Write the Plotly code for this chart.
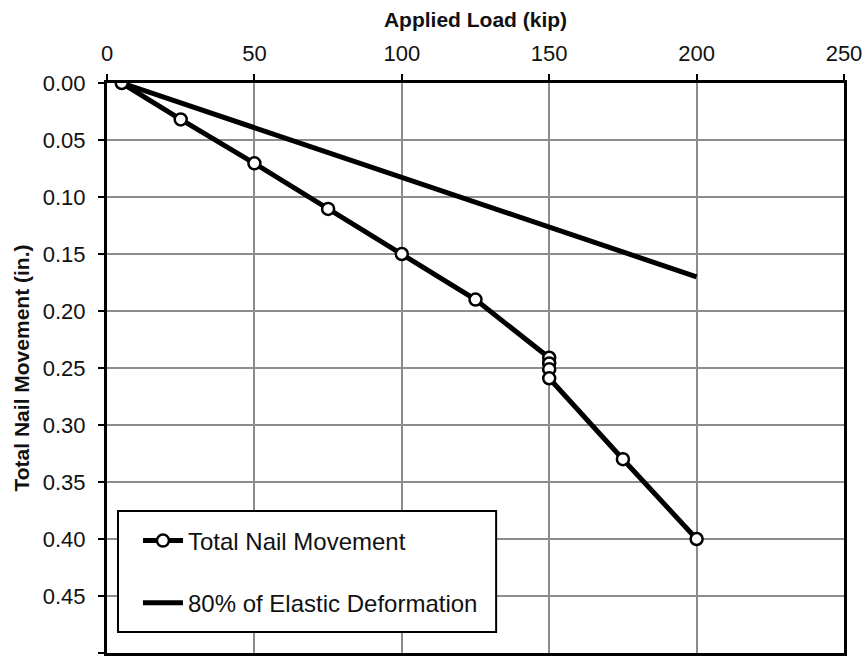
import plotly.graph_objects as go

load_kip = [5, 25, 50, 75, 100, 125, 150, 150, 150, 150, 175, 200]
movement_in = [0.0, 0.032, 0.0705, 0.1105, 0.150, 0.190, 0.241, 0.246, 0.251, 0.259, 0.330, 0.400]

elastic_load = [5, 200]
elastic_move = [0.0, 0.170]

x_ticks = [0, 50, 100, 150, 200, 250]
y_ticks = [0.00, 0.05, 0.10, 0.15, 0.20, 0.25, 0.30, 0.35, 0.40, 0.45, 0.50]

FONT = "Liberation Sans, Arial, sans-serif"

fig = go.Figure()
fig.add_trace(go.Scatter(
    x=elastic_load, y=elastic_move, mode="lines",
    name="80% of Elastic Deformation",
    line=dict(color="black", width=5),
    legendgroup="b", legendrank=2,
))
fig.add_trace(go.Scatter(
    x=load_kip, y=movement_in, mode="lines+markers",
    name="Total Nail Movement",
    line=dict(color="black", width=5),
    marker=dict(symbol="circle", size=12, color="white",
                line=dict(color="black", width=2.5)),
    legendgroup="a", legendrank=1,
))

# legend frame (white box with black border)
fig.add_shape(
    type="rect", xref="paper", yref="paper",
    x0=0.0149, x1=0.528, y0=0.0368, y1=0.249,
    line=dict(color="black", width=2), fillcolor="white", layer="above",
)

fig.update_layout(
    width=866, height=663,
    margin=dict(l=107, r=22, t=83, b=10, autoexpand=False),
    paper_bgcolor="white", plot_bgcolor="white",
    font=dict(family=FONT, size=22, color="#111"),
    showlegend=True,
    legend=dict(
        x=0.042, y=0.236, xanchor="left", yanchor="top",
        bgcolor="rgba(0,0,0,0)", borderwidth=0,
        font=dict(family=FONT, size=24, color="#111"),
        traceorder="grouped", tracegroupgap=28,
        itemwidth=40,
    ),
)

fig.update_xaxes(
    side="top", range=[0, 250], tickvals=x_ticks, automargin=False,
    title=dict(text="<b>Applied Load (kip)</b>", font=dict(size=21), standoff=8),
    showgrid=True, gridcolor="#8c8c8c", gridwidth=2,
    showline=True, linecolor="black", linewidth=3, mirror=True,
    ticks="outside", ticklen=6, tickwidth=2, tickcolor="black",
    ticklabelstandoff=4,
    zeroline=False,
)
fig.update_yaxes(
    range=[0.5, 0], tickvals=y_ticks, tickformat=".2f", automargin=False,
    title=dict(text="<b>Total Nail Movement (in.)</b>", font=dict(size=21), standoff=8),
    showgrid=True, gridcolor="#8c8c8c", gridwidth=2,
    showline=True, linecolor="black", linewidth=3, mirror=True,
    ticks="outside", ticklen=6, tickwidth=2, tickcolor="black",
    ticklabelstandoff=8,
    zeroline=False,
)

fig.write_html(
    "out.html",
    config={"displayModeBar": False},
    post_script="document.body.style.margin='0px';document.body.style.overflow='hidden';",
)
